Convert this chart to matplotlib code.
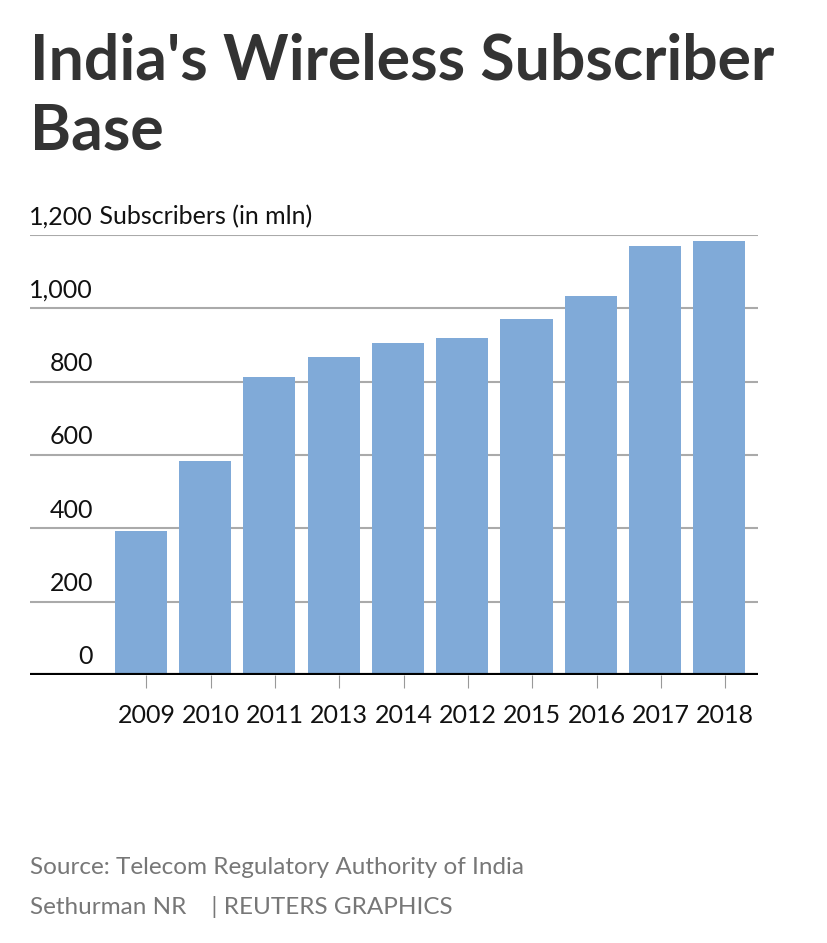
import matplotlib.pyplot as plt

years = ["2009", "2010", "2011", "2013", "2014", "2012", "2015", "2016", "2017", "2018"]
subscribers = [392, 584, 812, 867, 905, 919, 970, 1033, 1170, 1183]
yticks = [0, 200, 400, 600, 800, 1000, 1200]
ytick_labels = ["0", "200", "400", "600", "800", "1,000", "1,200"]

W, H = 828, 943
fig = plt.figure(figsize=(W / 100, H / 100), dpi=100)
fam = ["Lato", "DejaVu Sans"]

ax = fig.add_axes([30 / W, (H - 675) / H, (758 - 30) / W, (675 - 235) / H])
x = list(range(len(years)))
ax.bar(x, subscribers, width=0.81, color="#80aad8", zorder=2)
ax.set_xlim(-1.72, 9.6)
ax.set_ylim(0, 1200)

for v in yticks[1:]:
    ax.axhline(v, color="#aaaaaa", lw=1.5, zorder=1)
ax.axhline(0, color="black", lw=3, zorder=3)

for s in ax.spines.values():
    s.set_visible(False)
ax.set_yticks([])
# ticks sit a little right of the bar centres, as in the original
ax.set_xticks([i + 0.09 for i in x])
ax.set_xticklabels(years, fontsize=18, family=fam, color="#111111")
ax.tick_params(axis="x", length=9, width=0.8, color="#999999", pad=12)

for v, lab in zip(yticks, ytick_labels):
    ax.text(-0.74, v + 18, lab, ha="right", va="bottom", fontsize=18,
            family=fam, color="#111111")
ax.text(-0.74, 1218, " Subscribers (in mln)", ha="left", va="bottom",
        fontsize=18, family=fam, color="#111111")

# title, two lines
fig.text(30 / W, 1 - 79 / H, "India's Wireless Subscriber", ha="left", va="baseline",
         fontsize=45, fontweight="bold", family=fam, color="#333333")
fig.text(30 / W, 1 - 149 / H, "Base", ha="left", va="baseline",
         fontsize=45, fontweight="bold", family=fam, color="#333333")

fig.text(30 / W, 1 - 867 / H, "Source: Telecom Regulatory Authority of India",
         ha="left", va="center", fontsize=17.5, family=fam, color="#777777")
fig.text(30 / W, 1 - 907 / H, "Sethurman NR    | REUTERS GRAPHICS",
         ha="left", va="center", fontsize=17.5, family=fam, color="#777777")

fig.savefig("out.png", dpi=100, facecolor="white")
